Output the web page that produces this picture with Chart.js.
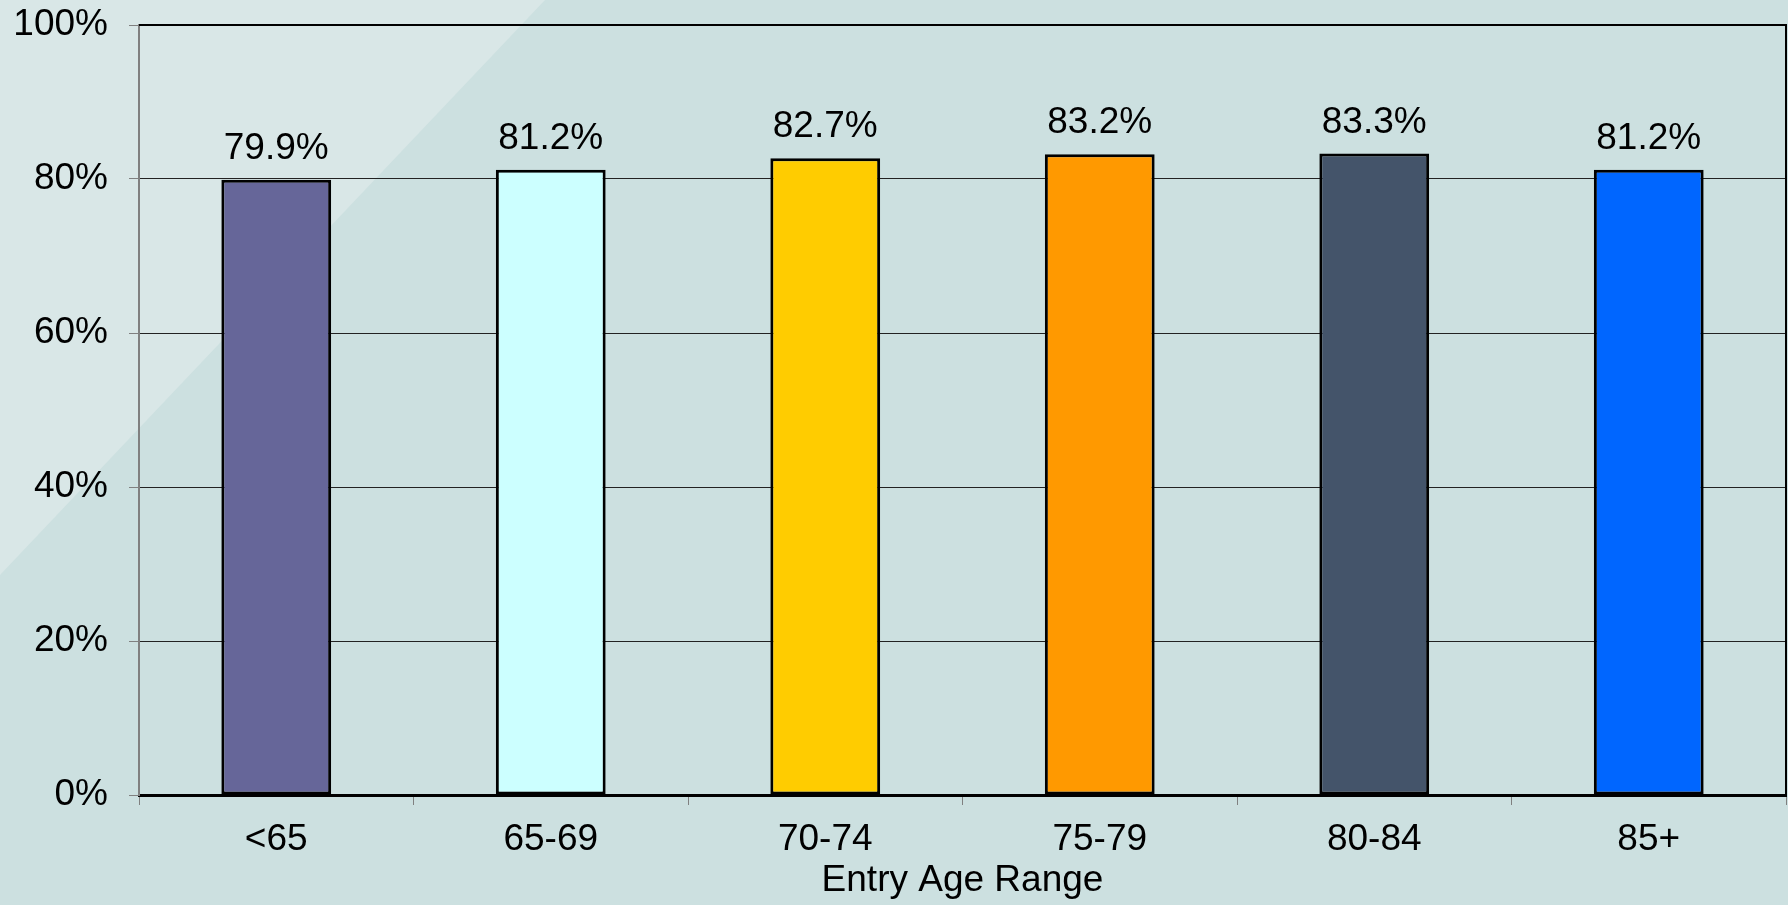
<!DOCTYPE html>
<html>
<head>
<meta charset="utf-8">
<style>
  html, body { margin: 0; padding: 0; background: #cce0e0; }
  canvas { display: block; }
</style>
<script src="https://cdn.jsdelivr.net/npm/chart.js@4.4.1/dist/chart.umd.min.js"></script>
</head>
<body>
<canvas id="ageChart" width="1788" height="905"></canvas>
<script>
const ageRanges = ['<65', '65-69', '70-74', '75-79', '80-84', '85+'];
const retentionValues = [79.9, 81.2, 82.7, 83.2, 83.3, 81.2];
const barColors = ['#666699', '#ccffff', '#ffcc00', '#ff9900', '#44546a', '#0066ff'];
const yTicks = [0, 20, 40, 60, 80, 100];

const FONT = { family: '"Liberation Sans", Arial, sans-serif', size: 37 };

// slide background with the light diagonal band in the top-left corner
const backdrop = {
    id: 'backdrop',
    beforeDraw(chart) {
        const ctx = chart.ctx;
        ctx.save();
        ctx.fillStyle = '#cce0e0';
        ctx.fillRect(0, 0, chart.width, chart.height);
        ctx.fillStyle = '#d9e7e7';
        ctx.beginPath();
        ctx.moveTo(0, 0);
        ctx.lineTo(545, 0);
        ctx.lineTo(0, 575);
        ctx.closePath();
        ctx.fill();
        ctx.restore();
    }
};

// closes the plot frame on top and right side
const frame = {
    id: 'frame',
    afterDatasetsDraw(chart) {
        const { ctx, chartArea } = chart;
        ctx.save();
        ctx.strokeStyle = '#000';
        ctx.lineWidth = 2;
        ctx.beginPath();
        ctx.moveTo(chartArea.left, chartArea.top);
        ctx.lineTo(chartArea.right, chartArea.top);
        ctx.lineTo(chartArea.right, chartArea.bottom);
        ctx.stroke();
        ctx.restore();
    }
};

// value labels above each bar
const valueLabels = {
    id: 'valueLabels',
    afterDatasetsDraw(chart) {
        const ctx = chart.ctx;
        const meta = chart.getDatasetMeta(0);
        ctx.save();
        ctx.font = FONT.size + 'px ' + FONT.family;
        ctx.fillStyle = '#000';
        ctx.textAlign = 'center';
        ctx.textBaseline = 'alphabetic';
        meta.data.forEach((bar, i) => {
            ctx.fillText(retentionValues[i].toFixed(1) + '%', bar.x, bar.y - 21);
        });
        ctx.restore();
    }
};

new Chart(document.getElementById('ageChart').getContext('2d'), {
    type: 'bar',
    data: {
        labels: ageRanges,
        datasets: [{
            data: retentionValues,
            backgroundColor: barColors,
            borderColor: '#000',
            borderWidth: 3,
            borderSkipped: false,
            barPercentage: 0.5,
            categoryPercentage: 0.8
        }]
    },
    options: {
        responsive: false,
        animation: false,
        layout: { padding: { top: 0, right: 2, left: 0, bottom: 0 } },
        plugins: {
            legend: { display: false },
            tooltip: { enabled: false }
        },
        scales: {
            x: {
                afterFit: scale => { scale.height = 110; },
                grid: {
                    offset: true,
                    drawOnChartArea: false,
                    tickLength: 10,
                    tickColor: '#808080',
                    tickWidth: 1
                },
                border: { color: '#000', width: 3 },
                ticks: { color: '#000', font: FONT, padding: 13 },
                title: {
                    display: true,
                    text: 'Entry Age Range',
                    color: '#000',
                    font: FONT,
                    padding: { top: 0, bottom: 2 }
                }
            },
            y: {
                min: 0,
                max: 100,
                afterFit: scale => {
                    scale.width = 139;
                    scale.paddingTop = 25;
                    scale.paddingBottom = 0;
                },
                afterBuildTicks: scale => { scale.ticks = yTicks.map(v => ({ value: v })); },
                grid: {
                    color: '#222',
                    lineWidth: 1,
                    tickLength: 10,
                    tickColor: '#808080'
                },
                border: { color: '#808080', width: 2 },
                ticks: {
                    color: '#000',
                    font: FONT,
                    padding: 21,
                    callback: v => v + '%'
                }
            }
        }
    },
    plugins: [backdrop, frame, valueLabels]
});
</script>
</body>
</html>
